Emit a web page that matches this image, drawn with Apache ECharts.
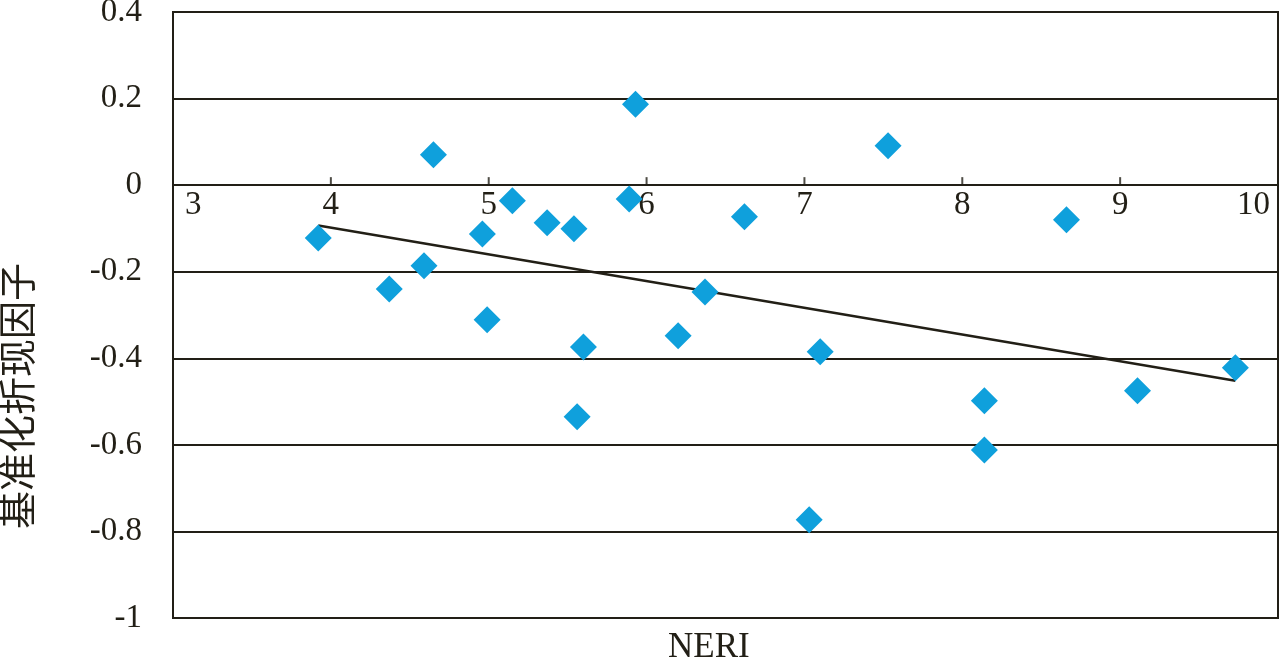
<!DOCTYPE html>
<html>
<head>
<meta charset="utf-8">
<script src="https://cdn.jsdelivr.net/npm/echarts@6/dist/echarts.min.js"></script>
<style>
html,body{margin:0;padding:0;background:#fff;}
#c{width:1281px;height:660px;}
</style>
</head>
<body>
<div id="c"></div>
<script>
// NERI values (x) and standardized discount factor (y)
var neri = [3.92, 4.37, 4.59, 4.65, 4.96, 4.99, 5.15, 5.37, 5.54, 5.56, 5.60, 5.89, 5.93, 6.20, 6.37, 6.62, 7.03, 7.10, 7.53, 8.14, 8.14, 8.66, 9.11, 9.73];
var factor = [-0.122, -0.240, -0.186, 0.070, -0.113, -0.311, -0.036, -0.087, -0.101, -0.535, -0.374, -0.032, 0.187, -0.348, -0.247, -0.073, -0.773, -0.385, 0.091, -0.498, -0.612, -0.080, -0.475, -0.422];
// trend line end points
var trendX = [3.92, 9.73];
var trendY = [-0.093, -0.452];
var xTicks = [3, 4, 5, 6, 7, 8, 9, 10];
var yTicks = [0.4, 0.2, 0, -0.2, -0.4, -0.6, -0.8, -1];
var xName = 'NERI';
var yName = '基准化折现因子';

var dark = '#221f16';
var serif = '"Times New Roman", "Liberation Serif", serif';
var chart = echarts.init(document.getElementById('c'));
var pts = neri.map(function (x, i) { return [x, factor[i]]; });
var trend = trendX.map(function (x, i) { return [x, trendY[i]]; });
// tick marks on the y = 0 axis line, placed through the axes
var tickPts = xTicks.slice(1, -1).map(function (v) { return [v, 0]; });

var gridTop = 12, gridBottom = 42, H = 660;
var plotH = H - gridTop - gridBottom;
var yMin = yTicks[yTicks.length - 1], yMax = yTicks[0];
var xMin = xTicks[0], xMax = xTicks[xTicks.length - 1];
// label axis is placed on top and shifted down to the y = 0 line
var zeroOffsetTop = -plotH * (yMax - 0) / (yMax - yMin);

chart.setOption({
  animation: false,
  backgroundColor: '#fff',
  grid: { left: 173, right: 3, top: gridTop, bottom: gridBottom, outerBoundsMode: 'none', containLabel: false,
          show: true, borderColor: dark, borderWidth: 2, backgroundColor: 'transparent' },
  xAxis: [{
    type: 'value', min: xMin, max: xMax, interval: 1, position: 'bottom',
    axisLine: { show: true, onZero: true, lineStyle: { color: dark, width: 2 } },
    axisTick: { show: false },
    splitLine: { show: false },
    axisLabel: { show: false }
  }, {
    type: 'value', min: xMin, max: xMax, interval: 1, position: 'top', offset: zeroOffsetTop,
    axisLine: { show: false, onZero: false },
    axisTick: { show: false },
    splitLine: { show: false },
    axisLabel: {
      inside: true,
      color: dark, fontFamily: serif, fontSize: 33, margin: 4,
      alignMinLabel: 'left', alignMaxLabel: 'right',
      formatter: function (v) { return v === xMin ? '{a|' + v + '}' : (v === xMax ? '{b|' + v + '}' : String(v)); },
      rich: {
        a: { fontFamily: serif, fontSize: 33, color: dark, padding: [0, 0, 0, 12] },
        b: { fontFamily: serif, fontSize: 33, color: dark, padding: [0, 8, 0, 0] }
      }
    }
  }],
  yAxis: {
    type: 'value', min: yMin, max: yMax, interval: 0.2,
    axisLine: { show: true, onZero: false, lineStyle: { color: dark, width: 2 } },
    axisTick: { show: false },
    splitLine: { show: true, lineStyle: { color: dark, width: 2 } },
    axisLabel: {
      color: dark, fontFamily: serif, fontSize: 33, margin: 31,
      formatter: function (v) { return String(Math.round(v * 10) / 10); }
    }
  },
  graphic: [
    { type: 'text', left: 668, top: 630, style: { text: xName, font: '35px ' + serif, fill: dark } },
    { type: 'text', x: 17, y: 396, rotation: Math.PI / 2,
      style: { text: yName, font: '38px "Noto Sans CJK SC"', fill: dark, textAlign: 'center', textVerticalAlign: 'middle' } }
  ],
  series: [
    { type: 'scatter', xAxisIndex: 0, data: tickPts, symbol: 'rect', symbolSize: [2, 8], symbolOffset: [0, -4],
      silent: true, z: 1, itemStyle: { color: dark } },
    { type: 'line', xAxisIndex: 0, data: trend, symbol: 'none', z: 2, lineStyle: { color: dark, width: 2.5 } },
    { type: 'scatter', xAxisIndex: 0, data: pts, symbol: 'diamond', symbolSize: 27, z: 3, itemStyle: { color: '#0fa0dc', opacity: 1 } }
  ]
});
</script>
</body>
</html>
